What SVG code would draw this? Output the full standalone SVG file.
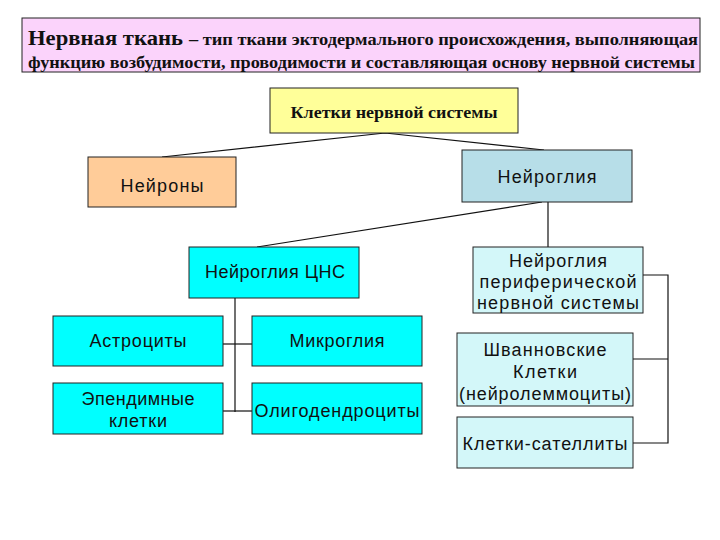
<svg xmlns="http://www.w3.org/2000/svg" width="720" height="540" viewBox="0 0 720 540">
<style>
.box{stroke:#222;stroke-width:1}
.t{font-family:"Liberation Sans",Arial,sans-serif;font-size:18px;fill:#111;text-anchor:middle}
.s{font-family:"Liberation Serif","Times New Roman",serif;font-weight:bold;fill:#111}
.ln{stroke:#111;stroke-width:1.2;fill:none}
</style>
<rect width="720" height="540" fill="#fff"/>
<g id="header">
<rect class="box" x="22" y="18" width="678" height="54" fill="#FBD3FB"/>
<text class="s" x="28" y="45" font-size="22" textLength="155" lengthAdjust="spacingAndGlyphs">Нервная ткань</text>
<text class="s" x="189" y="45" font-size="17" textLength="509" lengthAdjust="spacingAndGlyphs">– тип ткани эктодермального происхождения, выполняющая</text>
<text class="s" x="28" y="68" font-size="17" textLength="667" lengthAdjust="spacingAndGlyphs">функцию  возбудимости, проводимости и составляющая основу нервной системы</text>
</g>
<g id="connectors">
<polyline class="ln" points="162,157 385,133 544,150"/>
<line class="ln" x1="542" y1="202" x2="257" y2="247"/>
<line class="ln" x1="548" y1="202" x2="548" y2="247"/>
<polyline class="ln" points="235,298 235,412"/>
<line class="ln" x1="223" y1="344" x2="252" y2="344"/>
<line class="ln" x1="223" y1="411" x2="252" y2="411"/>
<polyline class="ln" points="643,275 668,275 668,443 633,443"/>
<line class="ln" x1="633" y1="359" x2="668" y2="359"/>
</g>
<g id="cells">
<rect class="box" x="270" y="88" width="248" height="45" fill="#FFFF99"/>
<text class="s" x="394" y="118" font-size="16" text-anchor="middle" textLength="207" lengthAdjust="spacingAndGlyphs">Клетки нервной системы</text>
</g>
<g id="neurons">
<rect class="box" x="88" y="157" width="148" height="50" fill="#FFCC99"/>
<text class="t" x="162" y="192" textLength="83" lengthAdjust="spacing">Нейроны</text>
</g>
<g id="neuroglia">
<rect class="box" x="462" y="150" width="170" height="52" fill="#B7DEE8"/>
<text class="t" x="547" y="183" textLength="99" lengthAdjust="spacing">Нейроглия</text>
</g>
<g id="cns">
<rect class="box" x="189" y="247" width="170" height="51" fill="#00FFFF"/>
<text class="t" x="275" y="278" textLength="140" lengthAdjust="spacing">Нейроглия ЦНС</text>
</g>
<g id="astro">
<rect class="box" x="53" y="316" width="170" height="50" fill="#00FFFF"/>
<text class="t" x="138" y="347" textLength="97" lengthAdjust="spacing">Астроциты</text>
</g>
<g id="micro">
<rect class="box" x="252" y="316" width="170" height="50" fill="#00FFFF"/>
<text class="t" x="337" y="347" textLength="95" lengthAdjust="spacing">Микроглия</text>
</g>
<g id="ependym">
<rect class="box" x="53" y="383" width="170" height="51" fill="#00FFFF"/>
<text class="t" x="138" y="405" textLength="113" lengthAdjust="spacing">Эпендимные</text>
<text class="t" x="138" y="427" textLength="58" lengthAdjust="spacing">клетки</text>
</g>
<g id="oligo">
<rect class="box" x="252" y="383" width="170" height="51" fill="#00FFFF"/>
<text class="t" x="337" y="417" textLength="165" lengthAdjust="spacing">Олигодендроциты</text>
</g>
<g id="pns">
<rect class="box" x="473" y="247" width="170" height="66" fill="#D3F7F9"/>
<text class="t" x="558" y="267" textLength="98" lengthAdjust="spacing">Нейроглия</text>
<text class="t" x="558" y="288" textLength="157" lengthAdjust="spacing">периферической</text>
<text class="t" x="558" y="309" textLength="162" lengthAdjust="spacing">нервной системы</text>
</g>
<g id="schwann">
<rect class="box" x="457" y="333" width="176" height="73" fill="#D3F7F9"/>
<text class="t" x="545" y="356" textLength="123" lengthAdjust="spacing">Шванновские</text>
<text class="t" x="545" y="378" textLength="64" lengthAdjust="spacing">Клетки</text>
<text class="t" x="545" y="400" textLength="172" lengthAdjust="spacing">(нейролеммоциты)</text>
</g>
<g id="satellite">
<rect class="box" x="457" y="417" width="176" height="51" fill="#D3F7F9"/>
<text class="t" x="545" y="450" textLength="165" lengthAdjust="spacing">Клетки-сателлиты</text>
</g>
</svg>
